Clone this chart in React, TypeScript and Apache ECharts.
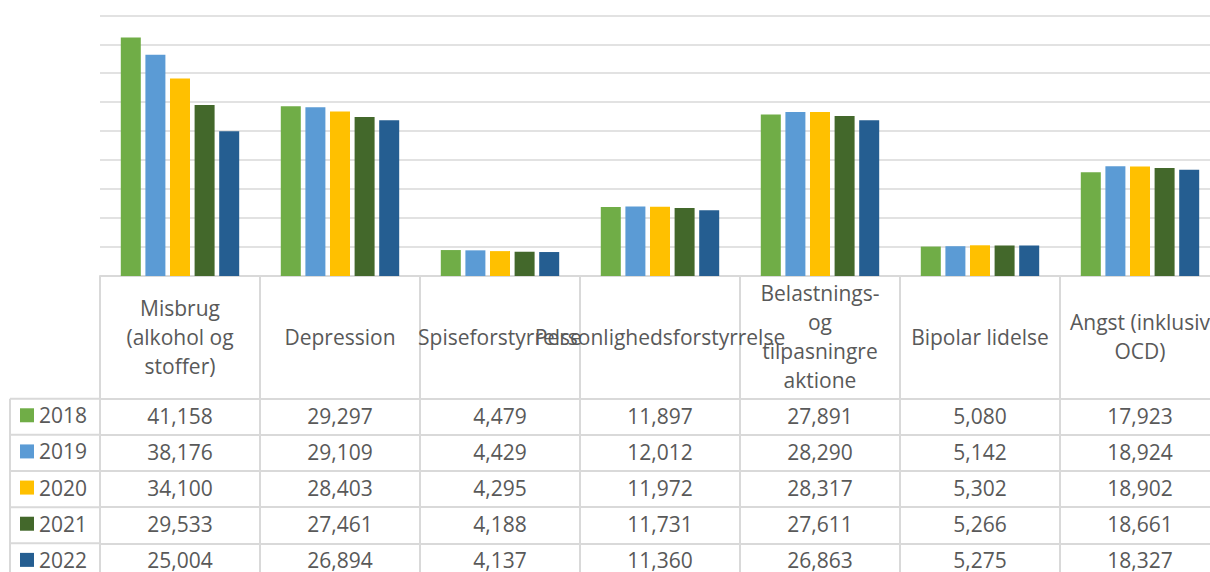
import React, { useEffect, useRef } from "react";
import * as echarts from "echarts";

const categories = [
  "Misbrug (alkohol og stoffer)",
  "Depression",
  "Spiseforstyrrelse",
  "Personlighedsforstyrrelse",
  "Belastnings- og tilpasningreaktione",
  "Bipolar lidelse",
  "Angst (inklusiv OCD)",
];
// how the header cells wrap the category names
const headerLines = [
  ["Misbrug", "(alkohol og", "stoffer)"],
  ["Depression"],
  ["Spiseforstyrrelse"],
  ["Personlighedsforstyrrelse"],
  ["Belastnings-", "og", "tilpasningre", "aktione"],
  ["Bipolar lidelse"],
  ["Angst (inklusiv", "OCD)"],
];

const years = ["2018", "2019", "2020", "2021", "2022"];
const v2018 = [41158, 29297, 4479, 11897, 27891, 5080, 17923];
const v2019 = [38176, 29109, 4429, 12012, 28290, 5142, 18924];
const v2020 = [34100, 28403, 4295, 11972, 28317, 5302, 18902];
const v2021 = [29533, 27461, 4188, 11731, 27611, 5266, 18661];
const v2022 = [25004, 26894, 4137, 11360, 26863, 5275, 18327];
const seriesValues = [v2018, v2019, v2020, v2021, v2022];
const colors = ["#70AD47", "#5B9BD5", "#FFC000", "#43682B", "#255E91"];

const FONT = "Open Sans";
const TEXT = "#595959";
const BORDER = "#d9d9d9";

export default function App() {
  const ref = useRef<HTMLDivElement>(null);
  useEffect(() => {
    if (!ref.current) return;
    const chart = echarts.init(ref.current, undefined, { renderer: "svg" });

    const gridLeft = 100;
    const gridTop = 15.3;
    const axisY = 276;
    const headerH = 122.7;
    const rowH = 36.15;
    const rowTop = axisY + headerH;
    const tableLeft = 10;

    const rowAxes = seriesValues.map((vals, r) => ({
      type: "category",
      gridIndex: 0,
      position: "bottom",
      offset: headerH + r * rowH,
      data: categories,
      axisLine: { show: true, lineStyle: { color: BORDER, width: 2 } },
      axisTick: { show: false },
      axisLabel: {
        interval: 0,
        margin: 17,
        verticalAlign: "middle",
        fontFamily: FONT,
        fontSize: 21,
        color: TEXT,
        formatter: (_v: string, i: number) => vals[i].toLocaleString("en-US"),
      },
    }));

    const graphics: any[] = [];
    for (let i = 0; i < 5; i++) {
      const y = rowTop + i * rowH;
      graphics.push({
        type: "line",
        shape: { x1: tableLeft, y1: y, x2: gridLeft, y2: y },
        style: { stroke: BORDER, lineWidth: 2 },
        silent: true,
      });
    }
    graphics.push({
      type: "line",
      shape: { x1: tableLeft, y1: rowTop, x2: tableLeft, y2: 600 },
      style: { stroke: BORDER, lineWidth: 2 },
      silent: true,
    });

    chart.setOption({
      animation: false,
      backgroundColor: "#ffffff",
      grid: {
        left: gridLeft,
        top: gridTop,
        width: 160 * categories.length,
        height: axisY - gridTop,
        outerBoundsMode: "none",
        containLabel: false,
      },
      legend: {
        data: years,
        orient: "vertical",
        left: 20,
        top: rowTop + rowH / 2 - 11 - 1.5,
        height: 300,
        padding: 0,
        itemWidth: 14,
        itemHeight: 14,
        itemGap: rowH - 22,
        icon: "rect",
        selectedMode: false,
        textStyle: { fontFamily: FONT, fontSize: 21, color: TEXT, lineHeight: 22 },
      },
      xAxis: [
        {
          type: "category",
          gridIndex: 0,
          position: "bottom",
          data: categories,
          axisLine: { show: true, lineStyle: { color: BORDER, width: 2 } },
          axisTick: {
            show: true,
            alignWithLabel: false,
            length: 320,
            interval: 0,
            lineStyle: { color: BORDER, width: 2 },
          },
          axisLabel: {
            interval: 0,
            margin: 60.5,
            verticalAlign: "middle",
            fontFamily: FONT,
            fontSize: 21,
            lineHeight: 29,
            color: TEXT,
            formatter: (_v: string, i: number) => headerLines[i].join("\n"),
          },
        },
        ...rowAxes,
      ],
      yAxis: {
        type: "value",
        min: 0,
        max: 45000,
        interval: 5000,
        axisLabel: { show: false },
        axisLine: { show: false },
        axisTick: { show: false },
        splitLine: { lineStyle: { color: BORDER, width: 1.5 } },
      },
      series: years.map((y, i) => ({
        name: y,
        type: "bar",
        xAxisIndex: 0,
        yAxisIndex: 0,
        data: seriesValues[i],
        barWidth: 20,
        barGap: "23%",
        itemStyle: { color: colors[i] },
      })),
      graphic: graphics,
    });
    return () => chart.dispose();
  }, []);
  return (
    <div
      ref={ref}
      style={{ position: "absolute", left: 0, top: 0, width: 1210, height: 572 }}
    />
  );
}
